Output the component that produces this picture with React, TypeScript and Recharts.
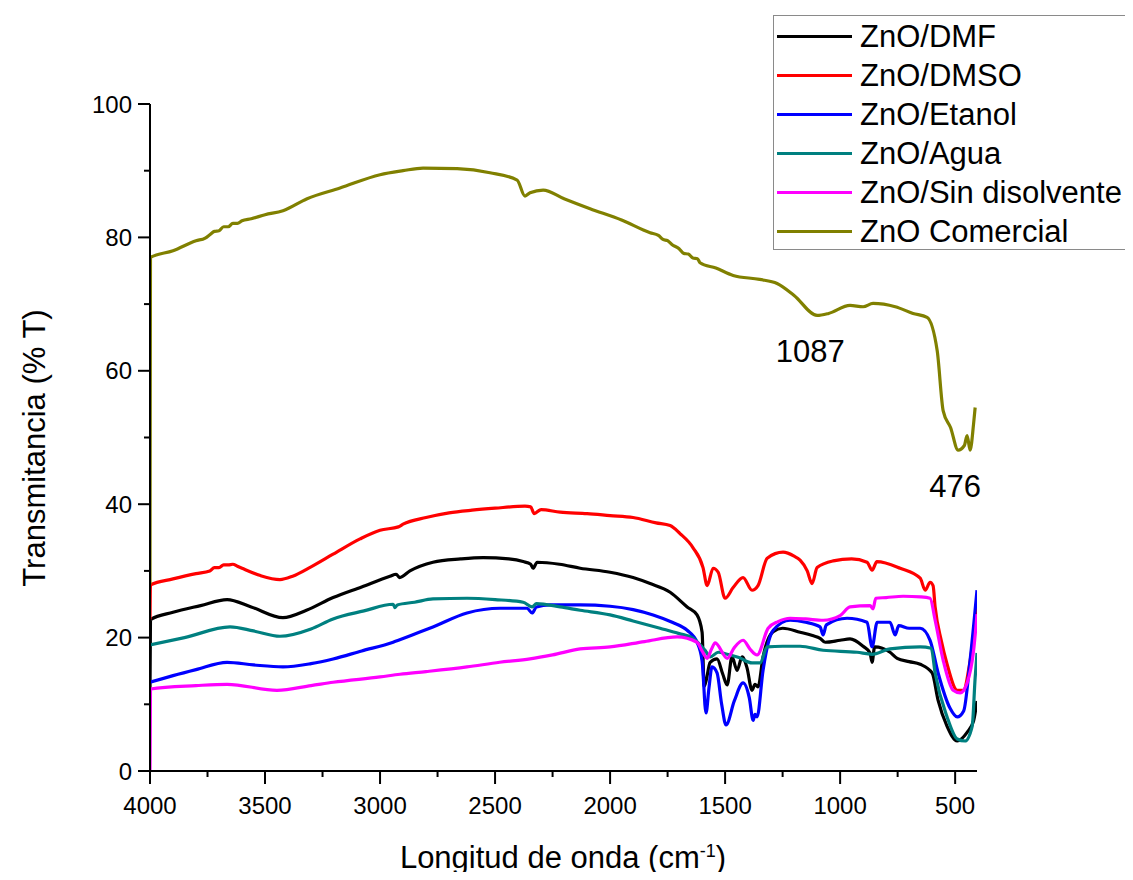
import React from "react";
import { LineChart, Line, XAxis, YAxis, ReferenceDot } from "recharts";

const FONT = "Arial, 'Liberation Sans', sans-serif";

// wavenumbers (cm-1) and transmittance (%)
const dmfX = [4000, 3998, 3900, 3780, 3665, 3560, 3422, 3320, 3204, 3080, 2957, 2930, 2915, 2870, 2770, 2650, 2552, 2440, 2378, 2345, 2335, 2317, 2220, 2130, 2000, 1900, 1826, 1739, 1665, 1622, 1600, 1591, 1583, 1565, 1535, 1510, 1491, 1470, 1448, 1426, 1405, 1383, 1370, 1357, 1335, 1291, 1250, 1174, 1120, 1087, 1065, 1000, 957, 900, 870, 861, 850, 783, 752, 700, 652, 600, 574, 535, 491, 448, 420, 405];
const dmfY = [12.3, 22.7, 23.8, 24.8, 25.7, 24.6, 23.0, 24.1, 26.0, 27.6, 29.2, 29.5, 29.0, 30.0, 31.3, 31.8, 32.0, 31.8, 31.4, 31.0, 30.4, 31.3, 31.0, 30.4, 29.8, 29.0, 28.1, 26.8, 24.6, 23.4, 20.8, 12.7, 13.5, 16.3, 16.8, 14.5, 12.9, 17.1, 15.1, 17.1, 15.5, 12.1, 13.0, 12.6, 17.1, 20.9, 21.4, 20.8, 20.3, 19.9, 19.3, 19.6, 19.8, 18.7, 17.7, 16.3, 18.6, 17.8, 16.9, 16.4, 16.0, 14.7, 10.6, 6.7, 4.5, 5.8, 7.5, 10.5];

const dmsoX = [4000, 3998, 3900, 3800, 3740, 3720, 3700, 3680, 3660, 3640, 3620, 3600, 3520, 3435, 3380, 3300, 3204, 3087, 3000, 2920, 2900, 2800, 2700, 2600, 2500, 2370, 2345, 2330, 2300, 2217, 2100, 2000, 1900, 1800, 1739, 1696, 1640, 1596, 1578, 1552, 1530, 1500, 1465, 1422, 1383, 1357, 1317, 1248, 1200, 1174, 1143, 1122, 1100, 1030, 950, 883, 861, 840, 739, 652, 630, 609, 596, 587, 560, 535, 491, 465, 435, 405];
const dmsoY = [22.7, 27.9, 28.8, 29.6, 30.0, 30.5, 30.5, 30.9, 30.9, 31.0, 30.7, 30.4, 29.3, 28.7, 29.2, 30.6, 32.5, 34.8, 36.1, 36.6, 37.0, 38.0, 38.7, 39.1, 39.4, 39.7, 39.6, 38.6, 39.2, 38.8, 38.6, 38.3, 38.0, 37.2, 36.8, 35.6, 33.5, 30.5, 27.8, 30.4, 29.8, 25.9, 27.5, 29.0, 27.1, 27.8, 31.9, 32.8, 32.2, 31.6, 30.0, 28.1, 30.5, 31.5, 31.8, 31.3, 30.1, 31.4, 30.4, 28.9, 27.1, 28.3, 27.8, 24.6, 19.5, 16.0, 12.1, 12.1, 16.5, 24.5];

const etanolX = [4000, 3900, 3800, 3665, 3550, 3422, 3300, 3204, 3080, 2943, 2920, 2860, 2770, 2622, 2478, 2361, 2339, 2320, 2261, 2130, 2000, 1900, 1813, 1730, 1665, 1622, 1600, 1583, 1570, 1557, 1535, 1515, 1496, 1460, 1422, 1395, 1378, 1370, 1361, 1335, 1310, 1291, 1217, 1150, 1087, 1074, 1060, 970, 883, 861, 839, 783, 761, 745, 700, 652, 609, 574, 522, 491, 463, 435, 405];
const etanolY = [13.3, 14.3, 15.2, 16.3, 15.9, 15.6, 16.1, 16.8, 18.0, 19.3, 19.6, 20.4, 21.6, 23.7, 24.4, 24.4, 23.7, 24.6, 24.9, 24.9, 24.7, 24.2, 23.4, 22.3, 21.1, 19.3, 16.5, 8.7, 12.5, 15.6, 14.7, 10.0, 6.9, 10.5, 13.2, 11.0, 7.6, 8.5, 8.1, 15.1, 19.5, 21.1, 22.6, 22.3, 21.6, 20.4, 21.9, 22.9, 22.3, 18.6, 22.3, 22.3, 20.4, 21.8, 21.4, 21.4, 19.6, 14.7, 9.4, 8.1, 9.0, 16.6, 27.1];

const aguaX = [4000, 3850, 3652, 3550, 3435, 3300, 3204, 3070, 2943, 2935, 2925, 2850, 2770, 2622, 2500, 2378, 2339, 2320, 2217, 2130, 2000, 1900, 1783, 1700, 1639, 1600, 1587, 1565, 1530, 1491, 1440, 1383, 1348, 1317, 1250, 1174, 1074, 926, 861, 783, 652, 604, 587, 535, 491, 457, 426, 413, 405];
const aguaY = [18.9, 20.0, 21.6, 21.0, 20.2, 21.3, 22.8, 24.0, 25.0, 24.5, 24.9, 25.3, 25.8, 25.9, 25.7, 25.3, 24.6, 25.1, 24.6, 24.1, 23.4, 22.5, 21.4, 20.6, 19.9, 18.6, 18.1, 17.1, 17.8, 17.5, 17.0, 16.2, 16.2, 18.6, 18.7, 18.7, 18.1, 17.8, 17.5, 18.3, 18.6, 18.4, 14.7, 8.1, 4.8, 4.5, 6.7, 14.0, 17.7];

const sinX = [4000, 3998, 3800, 3665, 3448, 3300, 3204, 3000, 2913, 2800, 2622, 2480, 2348, 2250, 2130, 2000, 1850, 1709, 1622, 1600, 1578, 1560, 1543, 1491, 1460, 1422, 1390, 1361, 1313, 1270, 1217, 1150, 1074, 1000, 957, 870, 857, 845, 800, 726, 650, 609, 587, 552, 509, 478, 448, 420, 405];
const sinY = [0, 12.3, 12.8, 13.0, 12.1, 12.8, 13.3, 14.1, 14.5, 14.9, 15.6, 16.3, 16.8, 17.4, 18.3, 18.6, 19.4, 20.1, 19.3, 18.0, 16.9, 18.2, 19.2, 16.9, 18.5, 19.6, 18.2, 17.4, 21.4, 22.4, 22.9, 22.8, 22.6, 23.3, 24.6, 24.8, 24.3, 25.9, 26.0, 26.2, 26.1, 25.9, 22.6, 16.6, 12.1, 11.7, 13.2, 18.0, 23.5];

const comX = [4000, 3998, 3900, 3800, 3760, 3740, 3720, 3700, 3680, 3660, 3640, 3620, 3600, 3560, 3500, 3422, 3317, 3174, 3000, 2900, 2813, 2665, 2522, 2404, 2370, 2348, 2291, 2200, 2087, 1950, 1826, 1790, 1770, 1750, 1730, 1700, 1680, 1660, 1640, 1620, 1609, 1540, 1465, 1350, 1274, 1200, 1100, 1050, 957, 900, 857, 760, 683, 622, 578, 552, 520, 487, 460, 448, 435, 420, 413];
const comY = [28.0, 77.0, 78.0, 79.5, 79.9, 80.4, 80.9, 81.0, 81.6, 81.6, 82.1, 82.1, 82.5, 82.8, 83.4, 84.0, 85.8, 87.4, 89.4, 90.0, 90.4, 90.3, 89.7, 88.6, 86.2, 86.7, 87.1, 85.8, 84.3, 82.6, 80.7, 80.3, 79.7, 79.5, 78.9, 78.3, 77.6, 77.5, 76.9, 76.8, 76.2, 75.4, 74.3, 73.7, 73.1, 71.3, 68.3, 68.6, 69.8, 69.6, 70.1, 69.6, 68.6, 68.0, 63.0, 54.0, 51.5, 48.1, 48.8, 50.3, 48.1, 52.0, 54.5];

const xTicks = [4000, 3750, 3500, 3250, 3000, 2750, 2500, 2250, 2000, 1750, 1500, 1250, 1000, 750, 500];
const yTicks = [0, 10, 20, 30, 40, 50, 60, 70, 80, 90, 100];

const toRows = (xs: number[], ys: number[]) => xs.map((x, i) => ({ x, y: ys[i] }));

const series = [
  { name: "ZnO/DMF", color: "#000000", data: toRows(dmfX, dmfY) },
  { name: "ZnO/DMSO", color: "#ff0000", data: toRows(dmsoX, dmsoY) },
  { name: "ZnO/Etanol", color: "#0000ff", data: toRows(etanolX, etanolY) },
  { name: "ZnO/Agua", color: "#008080", data: toRows(aguaX, aguaY) },
  { name: "ZnO/Sin disolvente", color: "#ff00ff", data: toRows(sinX, sinY) },
  { name: "ZnO Comercial", color: "#808000", data: toRows(comX, comY) },
];

function XTick({ x, y, payload }: any) {
  const major = payload.value % 500 === 0;
  return (
    <g>
      <line x1={x} y1={y} x2={x} y2={y + (major ? 13 : 6)} stroke="#000" strokeWidth={2} />
      {major && (
        <text x={x} y={y + 43} textAnchor="middle" fontSize={24} fontFamily={FONT} fill="#000">
          {payload.value}
        </text>
      )}
    </g>
  );
}

function YTick({ x, y, payload }: any) {
  const major = payload.value % 20 === 0;
  return (
    <g>
      <line x1={x} y1={y} x2={x - (major ? 12 : 6)} y2={y} stroke="#000" strokeWidth={2} />
      {major && (
        <text x={x - 18} y={y + 8.5} textAnchor="end" fontSize={24} fontFamily={FONT} fill="#000">
          {payload.value}
        </text>
      )}
    </g>
  );
}

export default function App() {
  return (
    <div style={{ position: "relative", width: 1125, height: 864, fontFamily: FONT }}>
      <LineChart width={1125} height={864} margin={{ top: 96, right: 156, bottom: 41, left: 62 }}>
        <XAxis
          dataKey="x"
          type="number"
          domain={[405, 4000]}
          reversed
          ticks={xTicks}
          interval={0}
          tickSize={0}
          tickMargin={0}
          tickLine={false}
          tick={<XTick />}
          axisLine={{ stroke: "#000", strokeWidth: 2 }}
          height={60}
          allowDataOverflow
        />
        <YAxis
          type="number"
          domain={[0, 100]}
          ticks={yTicks}
          interval={0}
          tickSize={0}
          tickMargin={0}
          tickLine={false}
          tick={<YTick />}
          axisLine={{ stroke: "#000", strokeWidth: 2 }}
          width={80}
          allowDataOverflow
        />
        {series.map((s) => (
          <Line
            key={s.name}
            data={s.data}
            dataKey="y"
            name={s.name}
            type="monotone"
            stroke={s.color}
            strokeWidth={3.2}
            dot={false}
            isAnimationActive={false}
          />
        ))}
        <ReferenceDot x={1130} y={63} r={0} stroke="none" label={{ value: "1087", position: "center", fontSize: 31, fill: "#000", fontFamily: FONT }} />
        <ReferenceDot x={500} y={42.7} r={0} stroke="none" label={{ value: "476", position: "center", fontSize: 31, fill: "#000", fontFamily: FONT }} />
      </LineChart>

      {/* legend box, cut off at the right edge like the source */}
      <div
        style={{
          position: "absolute",
          left: 765,
          top: 7,
          width: 360,
          height: 235,
          border: "1px solid #8a8a8a",
          borderRight: "none",
          boxSizing: "border-box",
          paddingTop: 1,
        }}
      >
        {series.map((s) => (
          <div key={s.name} style={{ display: "flex", alignItems: "center", height: 39 }}>
            <div style={{ width: 75, height: 3, background: s.color, marginLeft: 3, marginRight: 8 }} />
            <span style={{ fontSize: 31, lineHeight: "39px", whiteSpace: "nowrap", color: "#000" }}>{s.name}</span>
          </div>
        ))}
      </div>

      <div
        style={{
          position: "absolute",
          left: 27,
          top: 440,
          transform: "translate(-50%, -50%) rotate(-90deg)",
          fontSize: 31,
          whiteSpace: "nowrap",
          color: "#000",
        }}
      >
        Transmitancia (% T)
      </div>
      <div
        style={{
          position: "absolute",
          left: 555,
          top: 850,
          transform: "translate(-50%, -50%)",
          fontSize: 31,
          whiteSpace: "nowrap",
          color: "#000",
        }}
      >
        Longitud de onda (cm<sup style={{ fontSize: 18 }}>-1</sup>)
      </div>
    </div>
  );
}
